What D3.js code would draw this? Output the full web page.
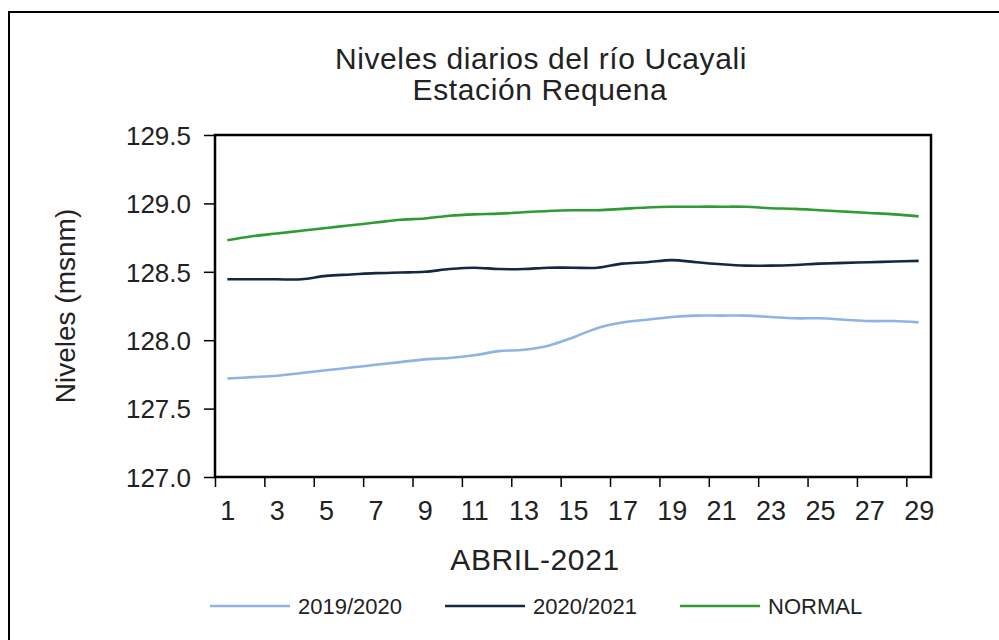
<!DOCTYPE html>
<head>
<meta charset="utf-8">
<title>Niveles diarios del río Ucayali</title>
<style>
body { margin: 0; background: #fff; }
text { font-family: "Liberation Sans", Arial, sans-serif; fill: #222; }
</style>
</head>
<body>
<svg id="chart" width="999" height="640"></svg>
<script src="https://cdn.jsdelivr.net/npm/d3@7/dist/d3.min.js"></script>
<script>
//-----------------------------DATA-----------------------------//
var days = d3.range(1, 30);
var seriesNames = ["2019/2020", "2020/2021", "NORMAL"];
var seriesColors = ["#8db4e2", "#132843", "#2e9c33"];
var yTicks = [127.0, 127.5, 128.0, 128.5, 129.0, 129.5];
var xLabels = [1, 3, 5, 7, 9, 11, 13, 15, 17, 19, 21, 23, 25, 27, 29];

var nivel2019 = [127.72, 127.73, 127.74, 127.76, 127.78, 127.80, 127.82, 127.84, 127.86, 127.87,
                 127.89, 127.92, 127.93, 127.96, 128.02, 128.09, 128.13, 128.15, 128.17, 128.18,
                 128.18, 128.18, 128.17, 128.16, 128.16, 128.15, 128.14, 128.14, 128.13];
var nivel2020 = [128.445, 128.445, 128.445, 128.445, 128.47, 128.48, 128.49, 128.495, 128.50, 128.52,
                 128.53, 128.52, 128.52, 128.53, 128.53, 128.53, 128.56, 128.57, 128.585, 128.57,
                 128.555, 128.545, 128.545, 128.55, 128.56, 128.565, 128.57, 128.575, 128.58];
var nivelNormal = [128.73, 128.76, 128.78, 128.80, 128.82, 128.84, 128.86, 128.88, 128.89, 128.91,
                   128.92, 128.925, 128.935, 128.945, 128.95, 128.95, 128.96, 128.97, 128.975, 128.976,
                   128.976, 128.975, 128.965, 128.96, 128.95, 128.94, 128.93, 128.92, 128.905];

var series = [nivel2019, nivel2020, nivelNormal].map(function (vals, i) {
    return {name: seriesNames[i], color: seriesColors[i],
            values: vals.map(function (v, j) { return {day: days[j], value: v}; })};
});

//-----------------------------SVG------------------------------//
var svg = d3.select("svg");
var plot = {left: 215, right: 931, top: 135, bottom: 477};

// outer frame of the picture
svg.append("rect")
    .attr("x", 9).attr("y", 12)
    .attr("width", 1100).attr("height", 700)
    .attr("fill", "none").attr("stroke", "#000").attr("stroke-width", 2);

var x = d3.scaleLinear().domain([0.5, 29.5]).range([plot.left, plot.right]);
var y = d3.scaleLinear().domain([127, 129.5]).range([plot.bottom, plot.top]);

//-----------------------------AXES-----------------------------//
// y axis with ticks outside
var yAxis = svg.append("g")
    .attr("transform", "translate(" + plot.left + ",0)")
    .call(d3.axisLeft(y).tickValues(yTicks).tickSize(11).tickPadding(13)
        .tickFormat(d3.format(".1f")));
yAxis.select(".domain").remove();
yAxis.selectAll("line").attr("stroke", "#000").attr("stroke-width", 1.5);
yAxis.selectAll("text").style("font-size", "26px").attr("fill", "#222")
    .attr("dy", "0.36em");

// x tick marks on category boundaries, every 2 days
var xTickAxis = svg.append("g")
    .attr("transform", "translate(0," + plot.bottom + ")")
    .call(d3.axisBottom(x).tickValues(d3.range(0.5, 29, 2)).tickSize(10).tickFormat(""));
xTickAxis.select(".domain").remove();
xTickAxis.selectAll("line").attr("stroke", "#000").attr("stroke-width", 1.5);

// x labels centred on the odd days
var xLabelAxis = svg.append("g")
    .attr("transform", "translate(0," + plot.bottom + ")")
    .call(d3.axisBottom(x).tickValues(xLabels).tickSize(0).tickPadding(24));
xLabelAxis.select(".domain").remove();
xLabelAxis.selectAll("text").style("font-size", "27px").attr("fill", "#222");

// plot area border
svg.append("rect")
    .attr("x", plot.left).attr("y", plot.top)
    .attr("width", plot.right - plot.left).attr("height", plot.bottom - plot.top)
    .attr("fill", "none").attr("stroke", "#000").attr("stroke-width", 2.5);

//----------------------------TITLES----------------------------//
svg.append("text").attr("x", 541).attr("y", 69).attr("text-anchor", "middle")
    .style("font-size", "30px").style("letter-spacing", "0.6px")
    .text("Niveles  diarios del río Ucayali");
svg.append("text").attr("x", 540).attr("y", 100).attr("text-anchor", "middle")
    .style("font-size", "30px").style("letter-spacing", "0.6px")
    .text("Estación  Requena");
svg.append("text").attr("x", 535).attr("y", 570).attr("text-anchor", "middle")
    .style("font-size", "30px").style("letter-spacing", "0.6px")
    .text("ABRIL-2021");
svg.append("text")
    .attr("transform", "translate(75," + ((plot.top + plot.bottom) / 2) + ") rotate(-90)")
    .attr("text-anchor", "middle")
    .style("font-size", "28px").text("Niveles  (msnm)");

//----------------------------LINES-----------------------------//
var line = d3.line()
    .curve(d3.curveCatmullRom.alpha(0.5))
    .x(function (d) { return x(d.day); })
    .y(function (d) { return y(d.value); });

svg.selectAll(".serie")
    .data(series)
    .enter().append("path")
    .attr("class", "serie")
    .attr("d", function (d) { return line(d.values); })
    .attr("fill", "none")
    .attr("stroke", function (d) { return d.color; })
    .attr("stroke-width", 2.6);

//----------------------------LEGEND----------------------------//
var legendX = [210, 445, 680];
var legend = svg.selectAll(".legend")
    .data(series)
    .enter().append("g")
    .attr("class", "legend")
    .attr("transform", function (d, i) { return "translate(" + legendX[i] + ",606)"; });
legend.append("line")
    .attr("x1", 0).attr("x2", 80)
    .attr("stroke", function (d) { return d.color; })
    .attr("stroke-width", 2.6);
legend.append("text")
    .attr("x", 88).attr("y", 8)
    .style("font-size", "22px")
    .text(function (d) { return d.name; });
</script>
</body>
